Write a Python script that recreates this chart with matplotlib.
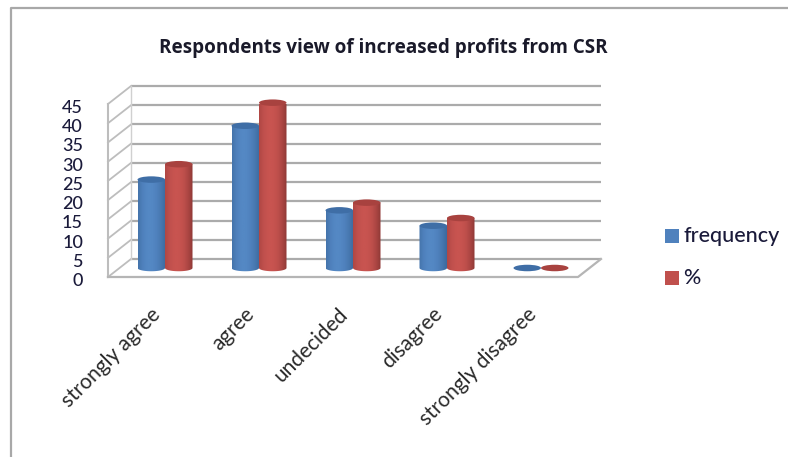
import numpy as np
import matplotlib
matplotlib.use("Agg")
import matplotlib.pyplot as plt
from matplotlib.colors import LinearSegmentedColormap
from matplotlib.patches import PathPatch, Ellipse, Rectangle
from matplotlib.path import Path

categories = ["strongly agree", "agree", "undecided", "disagree", "strongly disagree"]
frequency = [23, 37, 15, 11, 0]
percent = [27, 43, 17, 13, 0]
y_ticks = [0, 5, 10, 15, 20, 25, 30, 35, 40, 45]
title = "Respondents view of increased profits from CSR"
series_names = ["frequency", "%"]

W, H = 788, 457
plt.rcParams["font.family"] = ["Lato", "DejaVu Sans"]
fig = plt.figure(figsize=(W / 100, H / 100), dpi=100)

# Front plane of the pseudo-3D box: x 108..578 px, y 277..104 px
ax = fig.add_axes([108 / W, 1 - 277 / H, 470 / W, 173 / H])
ax.set_xlim(0, len(categories))
ax.set_ylim(0, 45)
ax.axis("off")

px_x = 94.0          # px per category
px_y = 173 / 45      # px per value unit
DX = 23 / px_x       # depth offset in data units
DY = 18 / px_y
GRID = "#ababab"

for v in y_ticks:
    ax.plot([DX, len(categories) + DX], [v + DY, v + DY], color=GRID, lw=1.6,
            clip_on=False, zorder=1, solid_capstyle="butt")
    ax.plot([0, DX], [v, v + DY], color="#bdbdbd", lw=1.3, clip_on=False, zorder=1)
ax.plot([0, 0], [0, 45], color="#bdbdbd", lw=1.5, clip_on=False, zorder=1)
ax.plot([DX, DX], [DY, 45 + DY], color="#d0d0d0", lw=1.0, clip_on=False, zorder=1)
ax.plot([0, len(categories), len(categories) + DX], [0, 0, DY], color="#b5b5b5",
        lw=1.6, clip_on=False, zorder=1)

blue_cm = LinearSegmentedColormap.from_list(
    "b", ["#4474ab", "#4f81bd", "#5488c4", "#5488c4", "#4f81bd", "#4878b0", "#3c6a9e"])
red_cm = LinearSegmentedColormap.from_list(
    "r", ["#b04744", "#c0504d", "#c85450", "#c85450", "#bf504c", "#ac4643", "#8f3936"])
grad = np.linspace(0, 1, 64).reshape(1, -1)

bar_w = 27.5 / px_x
ell_h = 6.5 / px_y
shift = -1.5 / px_x


def cylinder(x0, value, cmap, top, z):
    y0 = DY / 2
    y1 = y0 + value
    cx = x0 + bar_w / 2
    if value > 0:
        t = np.linspace(np.pi, 2 * np.pi, 30)
        bx = cx + bar_w / 2 * np.cos(t)
        by = y0 + ell_h / 2 * np.sin(t)
        verts = list(zip(bx, by)) + [(x0 + bar_w, y1), (x0, y1), (bx[0], by[0])]
        clip = PathPatch(Path(verts), transform=ax.transData, fc="none", ec="none")
        ax.add_patch(clip)
        im = ax.imshow(grad, cmap=cmap, extent=[x0, x0 + bar_w, y0 - ell_h, y1],
                       aspect="auto", zorder=z, interpolation="bilinear")
        im.set_clip_path(clip)
    ax.add_patch(Ellipse((cx, y1), bar_w, ell_h, fc=top, ec="none", zorder=z + 0.1,
                         clip_on=False))


for i, (f, p) in enumerate(zip(frequency, percent)):
    c = i + 0.5 + DX / 2 + shift
    cylinder(c - bar_w, f, blue_cm, "#3f6ea6", 3)
    cylinder(c, p, red_cm, "#a8423f", 4)
ax.set_xlim(0, len(categories))
ax.set_ylim(0, 45)

for v in y_ticks:
    ax.annotate(str(v), (0, v), xytext=(-25, -4), textcoords="offset pixels",
                ha="right", va="center", fontsize=13, fontweight="medium",
                color="#1a1a3a", annotation_clip=False)

for i, name in enumerate(categories):
    ax.annotate(name, (i + 0.5, 0), xytext=(-5, -27), textcoords="offset pixels",
                ha="right", va="top", rotation=45, rotation_mode="anchor",
                fontsize=15, color="#2a2a2a", annotation_clip=False)

fig.text(383 / W, 1 - 48 / H, title, ha="center", va="center", fontsize=13.6,
         fontweight="bold", family="Open Sans", color="#1a1a2a")

legend_colors = ["#4f81bd", "#c0504d"]
for name, col, ypx in zip(series_names, legend_colors, [236, 278]):
    fig.add_artist(Rectangle((665 / W, 1 - (ypx + 7) / H), 14 / W, 14 / H, fc=col,
                             ec="none", transform=fig.transFigure))
    fig.text(683 / W, 1 - ypx / H, name, ha="left", va="center", fontsize=15.5,
             fontweight="medium", color="#1a1a3a")

# chart frame (left and top edges only are visible)
fig.add_artist(plt.Line2D([11 / W, 11 / W, 1], [0, 1 - 8 / H, 1 - 8 / H], color="#a8a8a8",
                          lw=1.6, transform=fig.transFigure))

fig.savefig("out.png", dpi=100, facecolor="white")
